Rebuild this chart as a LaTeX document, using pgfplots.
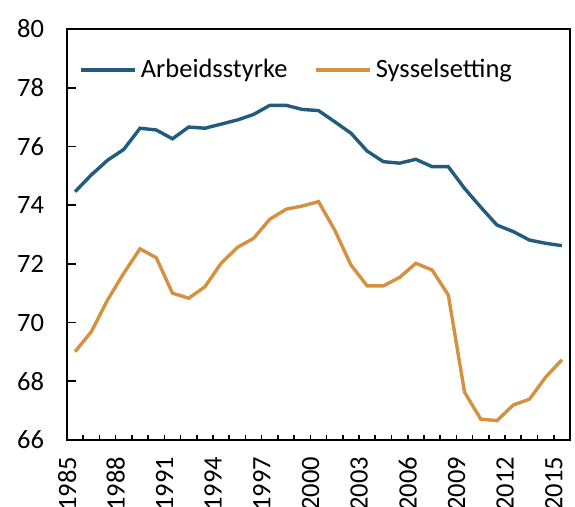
\documentclass[border=0pt]{standalone}
\usepackage{pgfplots}
\pgfplotsset{compat=1.18}
\usepackage{fontspec}
\setmainfont{Carlito}
\definecolor{cblue}{HTML}{215B7E}
\definecolor{corange}{HTML}{D4913F}
\begin{document}
\begin{tikzpicture}[font=\fontsize{13.25pt}{15.5pt}\selectfont]
\begin{axis}[
  scale only axis, width=251.5pt, height=205.5pt,
  xmin=1984.5, xmax=2015.5, ymin=66, ymax=80,
  ytick={66,68,...,80},
  xtick={1985,1988,...,2015},
  minor xtick={1985.5,1986.5,...,2014.5},
  tick align=inside, tick pos=left,
  major tick length=4.5pt, minor tick length=2.5pt,
  tick style={line width=0.8pt, black},
  major x tick style={draw=none},
  axis line style={line width=1pt},
  /pgf/number format/assume math mode=true,
  x tick label style={/pgf/number format/1000 sep={}, rotate=90, anchor=east, xshift=-5pt, yshift=4pt},
  y tick label style={xshift=-8pt},
  legend style={draw=none, fill=none, inner sep=0pt, at={(0,1)}, anchor=west,
    xshift=6pt, yshift=-20.5pt, legend columns=2,
    /tikz/every even column/.append style={column sep=11.5pt}},
  legend cell align=left,
  legend image code/.code={\draw[#1] (0pt,0pt) -- (27pt,0pt);},
]
\addplot[cblue, line width=1.7pt] coordinates {
(1985,74.46) (1986,75.03) (1987,75.53) (1988,75.90) (1989,76.62) (1990,76.56)
(1991,76.26) (1992,76.66) (1993,76.62) (1994,76.76) (1995,76.90) (1996,77.09)
(1997,77.40) (1998,77.40) (1999,77.26) (2000,77.22) (2001,76.84) (2002,76.45)
(2003,75.84) (2004,75.48) (2005,75.43) (2006,75.56) (2007,75.31) (2008,75.31)
(2009,74.57) (2010,73.93) (2011,73.32) (2012,73.10) (2013,72.81) (2014,72.70)
(2015,72.62)};
\addlegendentry{Arbeidsstyrke}
\addplot[corange, line width=1.7pt] coordinates {
(1985,69.01) (1986,69.69) (1987,70.77) (1988,71.68) (1989,72.51) (1990,72.21)
(1991,71.00) (1992,70.83) (1993,71.22) (1994,72.02) (1995,72.56) (1996,72.87)
(1997,73.52) (1998,73.86) (1999,73.97) (2000,74.12) (2001,73.15) (2002,71.96)
(2003,71.25) (2004,71.25) (2005,71.54) (2006,72.02) (2007,71.79) (2008,70.94)
(2009,67.63) (2010,66.71) (2011,66.66) (2012,67.19) (2013,67.39) (2014,68.14)
(2015,68.73)};
\addlegendentry{Sysselsetting}
\end{axis}
\pgfresetboundingbox
\path[use as bounding box] ([shift={(-33.5pt,-33pt)}]current axis.south west) rectangle ([shift={(2.5pt,14.5pt)}]current axis.north east);
\end{tikzpicture}
\end{document}
